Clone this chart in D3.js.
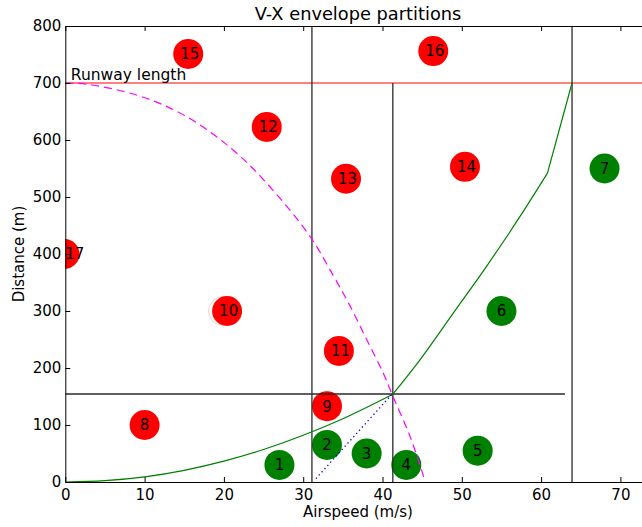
<!DOCTYPE html>
<html>
<head>
<meta charset="utf-8">
<script src="https://cdn.jsdelivr.net/npm/d3@7"></script>
<style>
  body { margin: 0; background: #fff; }
  svg text { font-family: "DejaVu Sans", sans-serif; }
</style>
</head>
<body>
<svg id="chart" width="642" height="527"></svg>
<script>
// takeoff / abort partitions
const xTicks = [0, 10, 20, 30, 40, 50, 60, 70];
const yTicks = [0, 100, 200, 300, 400, 500, 600, 700, 800];

const runway = 700;
const vSplits = [31.1, 41.3, 63.9];
const vSplitTop = [800, 700, 800];
const dSplit = 154.4;
const dSplitEnd = 63.0;

// accelerate curve (green), three pieces joined at kinks
const accelV1 = [0, 5, 10, 15, 20, 25, 30, 35, 41.3];
const accelD1 = [0, 2.3, 9, 20.5, 36.5, 57, 82, 111, 154];
const accelV2 = [41.3, 44.7, 48.9, 53.1, 57.3, 60.8];
const accelD2 = [154, 214, 296, 378, 465, 542];
const accelV3 = [60.8, 63.9];
const accelD3 = [542, 700];

// stopping curve (magenta dashed)
const stopV = [0, 2.7, 9.4, 15.3, 21.2, 25.8, 30.9, 33.8, 35.9, 38.0, 40.1, 41.2, 43.5, 45.2];
const stopD = [700, 698, 677, 641, 582, 518, 430, 362, 309, 250, 191, 154, 79, 9];

// blue dotted segment
const dotV = [31.6, 41.2];
const dotD = [6, 154];

// numbered cases
const caseId = [1, 2, 3, 4, 5, 6, 7, 8, 9, 10, 11, 12, 13, 14, 15, 16, 17];
const caseV = [27, 33, 38, 43, 52, 55, 68, 10, 33, 20.4, 34.5, 25.4, 35.4, 50.4, 15.5, 46.4, -0.1];
const caseD = [30, 65, 50, 30, 55, 300, 550, 100, 133, 300, 230, 623, 532, 553, 751, 756, 400];
const caseOk = [true, true, true, true, true, true, true, false, false, false, false, false, false, false, false, false, false];
const labelV = [27, 33, 38, 43, 52, 55, 68, 10, 33, 20.6, 34.7, 25.6, 35.6, 50.6, 15.7, 46.6, 1.2];

const FONT = 15;

const svg = d3.select("#chart");
const x = d3.scaleLinear().domain([0, 73]).range([65.3, 644.2]);
const y = d3.scaleLinear().domain([0, 800]).range([482, 26]);

svg.append("clipPath").attr("id", "plotclip")
  .append("rect").attr("x", 65.3).attr("y", 26).attr("width", 580).attr("height", 456);

const plot = svg.append("g").attr("clip-path", "url(#plotclip)");

// faint ghost ring left of case 10
plot.append("circle")
  .attr("cx", x(19.9)).attr("cy", y(300)).attr("r", 14.5)
  .attr("fill", "#fff").attr("stroke", "#fcc").attr("stroke-width", 1);

plot.selectAll("circle.case")
  .data(caseId)
  .enter().append("circle")
    .attr("class", "case")
    .attr("cx", (d, i) => x(caseV[i]))
    .attr("cy", (d, i) => y(caseD[i]))
    .attr("r", 15)
    .attr("fill", (d, i) => caseOk[i] ? "#008000" : "#ff0000");

const smooth = d3.line().x(d => x(d[0])).y(d => y(d[1])).curve(d3.curveMonotoneX);
const rounded = d3.line().x(d => x(d[0])).y(d => y(d[1])).curve(d3.curveCatmullRom.alpha(0.5));
const straight = d3.line().x(d => x(d[0])).y(d => y(d[1]));
const pts = (vs, ds) => vs.map((v, i) => [v, ds[i]]);

// runway length
plot.append("line")
  .attr("x1", x(0)).attr("x2", x(73)).attr("y1", y(runway)).attr("y2", y(runway))
  .attr("stroke", "#ff0000").attr("stroke-width", 1);

// partition lines
vSplits.forEach((v, i) => {
  plot.append("line")
    .attr("x1", x(v)).attr("x2", x(v)).attr("y1", y(0)).attr("y2", y(vSplitTop[i]))
    .attr("stroke", "#2a2a2a").attr("stroke-width", 1.3);
});
plot.append("line")
  .attr("x1", x(0)).attr("x2", x(dSplitEnd)).attr("y1", y(dSplit)).attr("y2", y(dSplit))
  .attr("stroke", "#2a2a2a").attr("stroke-width", 1.3);

const accel = plot.append("g")
  .attr("fill", "none").attr("stroke", "#008000").attr("stroke-width", 1.2);
accel.append("path").attr("d", smooth(pts(accelV1, accelD1)));
accel.append("path").attr("d", smooth(pts(accelV2, accelD2)));
accel.append("path").attr("d", straight(pts(accelV3, accelD3)));

plot.append("path")
  .attr("d", rounded(pts(stopV, stopD)))
  .attr("fill", "none").attr("stroke", "#ff00ff").attr("stroke-width", 1.2)
  .attr("stroke-dasharray", "8,5");

plot.append("path")
  .attr("d", straight(pts(dotV, dotD)))
  .attr("fill", "none").attr("stroke", "#0000ff").attr("stroke-width", 1.3)
  .attr("stroke-dasharray", "1.3,3");

plot.selectAll("text.case")
  .data(caseId)
  .enter().append("text")
    .attr("class", "case")
    .attr("x", (d, i) => x(labelV[i]))
    .attr("y", (d, i) => y(caseD[i]))
    .attr("dy", "0.36em")
    .attr("text-anchor", "middle")
    .attr("font-size", FONT)
    .attr("fill", "#000")
    .text(d => d);

svg.append("text")
  .attr("x", x(0.7)).attr("y", y(runway) - 3)
  .attr("font-size", 15.5)
  .text("Runway length");

// axes, ticks pointing inward
const axBottom = svg.append("g").attr("transform", "translate(0," + y(0) + ")")
  .call(d3.axisBottom(x).tickValues(xTicks).tickSize(-5).tickSizeOuter(0).tickPadding(7));
const axTop = svg.append("g").attr("transform", "translate(0," + y(800) + ")")
  .call(d3.axisTop(x).tickValues(xTicks).tickSize(-5).tickSizeOuter(0).tickFormat(""));
const axLeft = svg.append("g").attr("transform", "translate(" + x(0) + ",0)")
  .call(d3.axisLeft(y).tickValues(yTicks).tickSize(-5).tickSizeOuter(0).tickPadding(4));

[axBottom, axTop, axLeft].forEach(g => {
  g.select(".domain").attr("stroke", "#000").attr("stroke-width", 1);
  g.selectAll(".tick line").attr("stroke", "#000");
  g.selectAll(".tick text").attr("font-size", FONT).attr("fill", "#000")
    .style("font-family", "DejaVu Sans, sans-serif");
});

svg.append("text")
  .attr("x", 358).attr("y", 20)
  .attr("text-anchor", "middle").attr("font-size", 17.8)
  .text("V-X envelope partitions");

svg.append("text")
  .attr("x", 358).attr("y", 517)
  .attr("text-anchor", "middle").attr("font-size", FONT)
  .text("Airspeed (m/s)");

svg.append("text")
  .attr("transform", "translate(24," + y(400) + ") rotate(-90)")
  .attr("text-anchor", "middle").attr("font-size", FONT)
  .text("Distance (m)");
</script>
</body>
</html>
